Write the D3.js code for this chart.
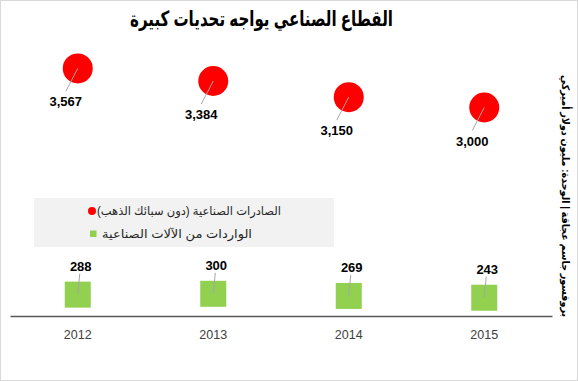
<!DOCTYPE html>
<html><head><meta charset="utf-8">
<script src="https://cdn.jsdelivr.net/npm/d3@7"></script>
<style>body{margin:0;background:#fff}svg{display:block}</style>
</head><body>
<svg id="c" width="578" height="381"></svg>
<script>
const years = ["2012","2013","2014","2015"];
const exportsVals = [3567, 3384, 3150, 3000];
const importsVals = [288, 300, 269, 243];
const titleText = "القطاع الصناعي يواجه تحديات كبيرة";
const legendLabels = ["الصادرات الصناعية (دون سبائك الذهب)", "الواردات من الآلات الصناعية"];
const sideNote = "بروفسور جاسم عجاقة | الوحدة: مليون دولار أميركي";

const W = 578, H = 381;
const svg = d3.select("#c");
const arFont = "Arial, 'Liberation Sans', 'DejaVu Sans', sans-serif";
const numFont = "'Liberation Sans', Arial, sans-serif";

svg.append("rect").attr("x",0.5).attr("y",0.5).attr("width",W-1).attr("height",H-1)
  .attr("fill","#fff").attr("stroke","#d9d9d9");

const x = d3.scaleBand().domain(years).range([10, 552]);
const y = d3.scaleLinear().domain([0, 4000]).range([314.5, 38.5]);
const cx = d => x(d) + x.bandwidth()/2;

// title
svg.append("text").attr("x",130).attr("y",25.5).attr("text-anchor","end").attr("direction","rtl")
  .attr("textLength",263).attr("lengthAdjust","spacingAndGlyphs")
  .attr("font-family",arFont).attr("font-weight","bold").attr("font-size",21)
  .attr("fill","#000").text(titleText);

// legend
const lg = svg.append("g");
lg.append("rect").attr("x",34).attr("y",198).attr("width",300).attr("height",49).attr("fill","#f2f2f2");
lg.append("circle").attr("cx",92).attr("cy",211).attr("r",4).attr("fill","#ff0000");
lg.append("rect").attr("x",90).attr("y",230.5).attr("width",6.5).attr("height",6.5).attr("fill","#92d050");
lg.selectAll("text.lg").data(legendLabels).join("text").attr("class","lg")
  .attr("x",(d,i)=> i===0 ? 97 : 102).attr("y",(d,i)=> i===0 ? 215 : 237.5)
  .attr("textLength",(d,i)=> i===0 ? 184 : 150).attr("lengthAdjust","spacingAndGlyphs")
  .attr("direction","rtl").attr("text-anchor","end")
  .attr("font-family",arFont).attr("font-size",12).attr("fill","#262626").text(d=>d);

// axis
const ax = svg.append("g").attr("transform","translate(0,316)")
  .call(d3.axisBottom(x).tickSize(0).tickPadding(14));
ax.select(".domain").attr("stroke","#595959").attr("stroke-width",1.5);
ax.selectAll("text").attr("font-family",numFont).attr("font-size",12.5).attr("fill","#404040");

const ex = years.map((d,i)=>({year:d, v:exportsVals[i]}));
const im = years.map((d,i)=>({year:d, v:importsVals[i]}));

// exports (red circles)
svg.selectAll("circle.ex").data(ex).join("circle").attr("class","ex")
  .attr("cx",d=>cx(d.year)).attr("cy",d=>y(d.v)).attr("r",15).attr("fill","#ff0000");
svg.selectAll("line.exl").data(ex).join("line").attr("class","exl")
  .attr("x1",d=>cx(d.year)).attr("y1",d=>y(d.v))
  .attr("x2",d=>cx(d.year)-12).attr("y2",d=>y(d.v)+23)
  .attr("stroke","#a6a6a6").attr("stroke-width",1);
svg.selectAll("text.exv").data(ex).join("text").attr("class","exv")
  .attr("x",d=>cx(d.year)-12).attr("y",d=>y(d.v)+38).attr("text-anchor","middle")
  .attr("font-family",numFont).attr("font-weight","bold").attr("font-size",13)
  .attr("fill","#000").text(d=>d3.format(",")(d.v));

// imports (green squares)
const S = 26;
svg.selectAll("rect.im").data(im).join("rect").attr("class","im")
  .attr("x",d=>cx(d.year)-S/2).attr("y",d=>y(d.v)-S/2).attr("width",S).attr("height",S)
  .attr("fill","#92d050");
svg.selectAll("line.iml").data(im).join("line").attr("class","iml")
  .attr("x1",d=>cx(d.year)).attr("y1",d=>y(d.v))
  .attr("x2",d=>cx(d.year)+2).attr("y2",d=>y(d.v)-21)
  .attr("stroke","#a6a6a6").attr("stroke-width",1);
svg.selectAll("text.imv").data(im).join("text").attr("class","imv")
  .attr("x",d=>cx(d.year)+3).attr("y",d=>y(d.v)-24).attr("text-anchor","middle")
  .attr("font-family",numFont).attr("font-weight","bold").attr("font-size",13)
  .attr("fill","#000").text(d=>String(d.v));

// side note
svg.append("text").attr("transform","translate(562,75) rotate(90)")
  .attr("text-anchor","end").attr("direction","rtl")
  .attr("textLength",242).attr("lengthAdjust","spacingAndGlyphs")
  .attr("font-family",arFont).attr("font-weight","bold").attr("font-size",10.5)
  .attr("fill","#000").text(sideNote);
</script>
</body></html>
